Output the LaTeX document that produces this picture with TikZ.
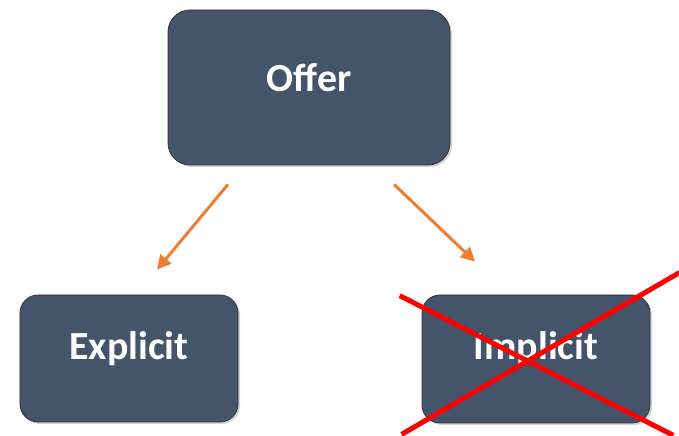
\documentclass[tikz,border=0pt]{standalone}
\usepackage{fontspec}
\setmainfont{Carlito}
\usetikzlibrary{arrows.meta,shadows,calc}
\definecolor{boxfill}{RGB}{68,84,106}
\definecolor{arrowor}{RGB}{237,125,49}
\definecolor{crossred}{RGB}{255,0,0}
\tikzset{
  box/.style={draw=black!80, line width=0.8bp, fill=boxfill, rounded corners=22bp,
    drop shadow={opacity=0.35, shadow xshift=2bp, shadow yshift=-2bp}},
  boxtext/.style={text=white, font=\bfseries\fontsize{40}{48}\selectfont},
  conn/.style={draw=arrowor, line width=3bp, -{Triangle[length=14bp,width=14bp]}},
  cross/.style={draw=crossred, line width=5bp}
}
\begin{document}
\begin{tikzpicture}[x=1bp,y=1bp]
\useasboundingbox (0,0) rectangle (679,436);
\clip (0,0) rectangle (679,436);
\node[box, minimum width=282bp, minimum height=155bp, inner sep=0pt,
  label={[boxtext, yshift=10bp]center:Offer}] (offer) at (309,348.5) {};
\node[box, minimum width=218bp, minimum height=127bp, inner sep=0pt, rounded corners=18bp,
  label={[boxtext, yshift=10bp]center:Explicit}] (explicit) at (129,77.5) {};
\node[box, minimum width=228bp, minimum height=128bp, inner sep=0pt, rounded corners=18bp,
  label={[boxtext, yshift=10bp]center:Implicit}] (implicit) at (536,77) {};
\coordinate (l1) at ($(offer.south)+(-81,-19)$);
\coordinate (l2) at ($(explicit.north)+(28,25)$);
\coordinate (r1) at ($(offer.south)+(85,-19)$);
\coordinate (r2) at ($(implicit.north)+(-61,33)$);
\draw[conn] (l1) -- (l2);
\draw[conn] (r1) -- (r2);
\coordinate (c1) at ($(implicit.north west)+(-22,-1)$);
\coordinate (c2) at ($(implicit.south east)+(23,-12)$);
\coordinate (c3) at ($(implicit.south west)+(-20,-11)$);
\coordinate (c4) at ($(implicit.north east)+(29,22)$);
\draw[cross] (c1) -- (c2);
\draw[cross] (c3) -- (c4);
\end{tikzpicture}
\end{document}
